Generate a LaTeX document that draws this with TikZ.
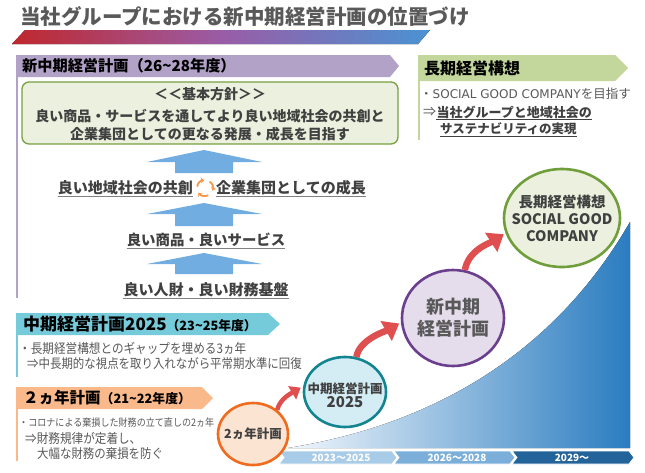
\documentclass[tikz,border=0pt]{standalone}
\usepackage{fontspec}
\setmainfont{Noto Sans CJK JP}
\newfontfamily\cond[FakeStretch=0.88]{Noto Sans CJK JP}
\newfontfamily\latinw{DejaVu Sans}
\usetikzlibrary{arrows.meta,calc,shapes.geometric}
\newcommand\fsz[1]{\fontsize{#1}{#1}\selectfont}
\definecolor{txt}{HTML}{404040}
\definecolor{gtxt}{HTML}{595959}
\definecolor{ulgray}{HTML}{808080}
\definecolor{hpurple}{HTML}{B3A2C7}
\definecolor{hgreen}{HTML}{C3D69B}
\definecolor{hcyan}{HTML}{76CBDB}
\definecolor{horange}{HTML}{FAB98B}
\definecolor{barred}{HTML}{C0272D}
\definecolor{barpurple}{HTML}{9A5CA6}
\definecolor{barblue}{HTML}{4A93D3}
\definecolor{upblue}{HTML}{71ADE0}
\definecolor{boxfill}{HTML}{EBF1DE}
\definecolor{boxline}{HTML}{77A03F}
\definecolor{redarr}{HTML}{E04F50}
\definecolor{cafill}{HTML}{FCE4D3}
\definecolor{caline}{HTML}{EF6B1E}
\definecolor{cbfill}{HTML}{D4EDF4}
\definecolor{cbline}{HTML}{138590}
\definecolor{ccfill}{HTML}{E5DCEC}
\definecolor{ccline}{HTML}{6B3E8E}
\definecolor{cdfill}{HTML}{EBF1DE}
\definecolor{cdline}{HTML}{6F9E3A}
\definecolor{curvelight}{HTML}{F2F7FC}
\definecolor{curvedark}{HTML}{2A7CC0}
\definecolor{segA}{HTML}{A8CBE7}
\definecolor{segB}{HTML}{7BAFD9}
\definecolor{segC}{HTML}{22639A}
\definecolor{cycorange}{HTML}{F79646}
\tikzset{
  hdr/.style={anchor=west, inner sep=0pt, text=black, font=\bfseries\fsz{16}},
  body/.style={anchor=west, inner sep=0pt, text=gtxt},
  rowtxt/.style={inner sep=0pt, text=txt, font=\bfseries\fsz{15}},
  uline/.style={draw=ulgray, line width=1.3pt},
  plan/.style={ellipse, inner sep=0pt, line width=2.6pt},
  plantxt/.style={align=center, inner sep=0pt, text=txt},
  redarrow/.style={draw=redarr, line cap=butt},
  upshape/.style={fill=upblue},
  segtxt/.style={inner sep=0pt, text=white, font=\bfseries\fsz{10}},
  cyc/.style={draw=cycorange, line width=1.8pt, -{Stealth[length=3.5pt,width=5.5pt]}},
}
\begin{document}
\begin{tikzpicture}[x=1pt,y=-1pt]
\fill[white] (0,0) rectangle (645,472);
\useasboundingbox (0,0) rectangle (645,472);

% title
\node[anchor=west, inner sep=0pt, text=gtxt, font=\bfseries\fsz{20.5}] (title) at (20,17) {当社グループにおける新中期経営計画の位置づけ};
\fill[left color=barred, right color=barblue, middle color=barpurple] (12,44) -- (25,30) -- (430,30) -- (418,44) -- cycle;

% purple header
\fill[hpurple] (16,55) -- (390,55) -- (399,66) -- (390,77) -- (16,77) -- cycle;
\draw[hpurple, line width=2pt] (17,77) -- (17,298);
\node[hdr, font=\bfseries\fsz{15.2}] (hnew) at (22,66) {新中期経営計画（26\textasciitilde 28年度）};

% policy box
\node[draw=boxline, fill=boxfill, line width=1.3pt, rounded corners=7pt, minimum width=376pt, minimum height=62pt, inner sep=0pt] (policy) at (210,113) {};
\node[rowtxt, font=\bfseries\fsz{14}] (pol1) at (210,94) {＜＜基本方針＞＞};
\node[rowtxt, font=\bfseries\fsz{14}] (pol2) at (210,116) {良い商品・サービスを通してより良い地域社会の共創と};
\node[rowtxt, font=\bfseries\fsz{14}] (pol3) at (210,134) {企業集団としての更なる発展・成長を目指す};

% up arrows
\fill[upshape] (204,150) -- (262,162) -- (233,162) -- (233,173) -- (175,173) -- (175,162) -- (147,162) -- cycle;
\fill[upshape] (204,203) -- (262,214) -- (233,214) -- (233,226) -- (175,226) -- (175,214) -- (147,214) -- cycle;
\fill[upshape] (204,253) -- (262,264) -- (233,264) -- (233,274) -- (175,274) -- (175,264) -- (147,264) -- cycle;

% rows
\node[rowtxt, anchor=east] (r1a) at (193,188) {良い地域社会の共創};
\node[rowtxt, anchor=west] (r1b) at (216,188) {企業集団としての成長};
\node[rowtxt, font=\bfseries\fsz{14.4}] (r2) at (206,240) {良い商品・良いサービス};
\node[rowtxt] (r3) at (206,290) {良い人財・良い財務基盤};
\foreach \n in {r1a,r1b,r2,r3}{
  \draw[uline] ($(\n.base west)+(0,3)$) -- ($(\n.base east)+(0,3)$);
}
\coordinate (cy) at (205,188);
\draw[cyc] ($(cy)+(190:8)$) arc[start angle=190, end angle=265, radius=8];
\draw[cyc] ($(cy)+(305:8)$) arc[start angle=305, end angle=380, radius=8];
\draw[cyc] ($(cy)+(65:8)$) arc[start angle=65, end angle=145, radius=8];

% green header
\fill[hgreen] (418,55) -- (615,55) -- (628,68) -- (615,81) -- (418,81) -- cycle;
\draw[hgreen, line width=2pt] (419,81) -- (419,140);
\node[hdr] (hlong) at (424,68) {長期経営構想};
\node[body, font=\fsz{12.5}] (l1) at (420,94) {・{\latinw\fsz{12}SOCIAL GOOD COMPANY}を目指す};
\node[body, font=\fsz{13}] (l2a) at (423,112) {⇒};
\node[body, anchor=west, text=txt, font=\bfseries\fsz{13}] (l2b) at (l2a.east) {当社グループと地域社会の};
\node[body, text=txt, font=\bfseries\fsz{12.5}] (l3) at (440,129) {サステナビリティの実現};
\foreach \n in {l2b,l3}{
  \draw[draw=txt, line width=1.1pt] ($(\n.base west)+(0,2.5)$) -- ($(\n.base east)+(0,2.5)$);
}

% cyan header
\fill[hcyan] (16,313) -- (268,313) -- (280,324) -- (268,335) -- (16,335) -- cycle;
\draw[hcyan, line width=2pt] (17,335) -- (17,377);
\node[hdr, font=\bfseries\fsz{17}] (hmid) at (23,324) {中期経営計画2025{\fsz{12.8}（23\textasciitilde 25年度）}};
\node[body, font=\cond\fsz{13.2}] (m1) at (19,348) {・長期経営構想とのギャップを埋める3ヵ年};
\node[body, font=\cond\fsz{13}] (m2) at (27,364) {⇒中長期的な視点を取り入れながら平常期水準に回復};

% orange header
\fill[horange] (16,387) -- (202,387) -- (213,398) -- (202,409) -- (16,409) -- cycle;
\draw[horange, line width=2pt] (17,409) -- (17,461);
\node[hdr, font=\bfseries\fsz{15.5}] (htwo) at (23,398) {２ヵ年計画{\fsz{12.8}（21\textasciitilde 22年度）}};
\node[body, font=\cond\fsz{10.3}] (t1) at (19,423) {・コロナによる棄損した財務の立て直しの2ヵ年};
\node[body, font=\cond\fsz{13.2}] (t2) at (25,438) {⇒財務規律が定着し、};
\node[body, font=\cond\fsz{13}] (t3) at (37,454) {大幅な財務の棄損を防ぐ};

% growth curve
\fill[left color=curvelight, right color=curvedark] (288,448) .. controls (450,422) and (562,340) .. (630,222) -- (630,448) -- cycle;

% timeline
\fill[segA, draw=white, line width=0.8pt] (279,451) -- (392,451) -- (397,457.5) -- (392,464) -- (279,464) -- (284,457.5) -- cycle;
\fill[segB, draw=white, line width=0.8pt] (394,451) -- (510,451) -- (515,457.5) -- (510,464) -- (394,464) -- (399,457.5) -- cycle;
\fill[segC, draw=white, line width=0.8pt] (512,451) -- (629,451) -- (634,457.5) -- (629,464) -- (512,464) -- (517,457.5) -- cycle;
\node[segtxt] (y1) at (341,457.5) {2023～2025};
\node[segtxt] (y2) at (457,457.5) {2026～2028};
\node[segtxt] (y3) at (572,457.5) {2029～};

% plan circles
\node[plan, draw=caline, fill=cafill, minimum width=70pt, minimum height=62pt] (ca) at (253,434) {};
\node[plantxt, font=\bfseries\fsz{12.5}] at (ca) {2ヵ年計画};
\node[plan, draw=cbline, fill=cbfill, minimum width=82pt, minimum height=70pt] (cb) at (345,392) {};
\node[plantxt, font=\bfseries\fsz{12.5}] at (345,395) {中期経営計画\\[2pt]{\fsz{15}2025}};
\node[plan, draw=ccline, fill=ccfill, minimum width=102pt, minimum height=96pt] (cc) at (453,318) {};
\node[plantxt, font=\bfseries\fsz{18}, text=gtxt] at (cc) {新中期\\[4pt]経営計画};
\node[plan, draw=cdline, fill=cdfill, minimum width=116pt, minimum height=98pt] (cd) at (562,218) {};
\node[plantxt, font=\bfseries\fsz{14.5}] at (cd) {長期経営構想\\[2.5pt]SOCIAL GOOD\\[2.5pt]COMPANY};

% red arrows
\draw[redarrow, line width=4.5pt, -{Triangle[length=10pt,width=15pt]}, shorten >=3pt] (ca.45) .. controls +(3,-12) and +(-10,6) .. (cb.172);
\draw[redarrow, line width=6.5pt, -{Triangle[length=15pt,width=22pt]}, shorten >=2pt] (cb.72) .. controls +(3,-18) and +(-14,8) .. (cc.185);
\draw[redarrow, line width=6.5pt, -{Triangle[length=15pt,width=22pt]}, shorten >=2pt] (cc.76) .. controls +(3,-20) and +(-14,9) .. (cd.195);
\end{tikzpicture}
\end{document}
